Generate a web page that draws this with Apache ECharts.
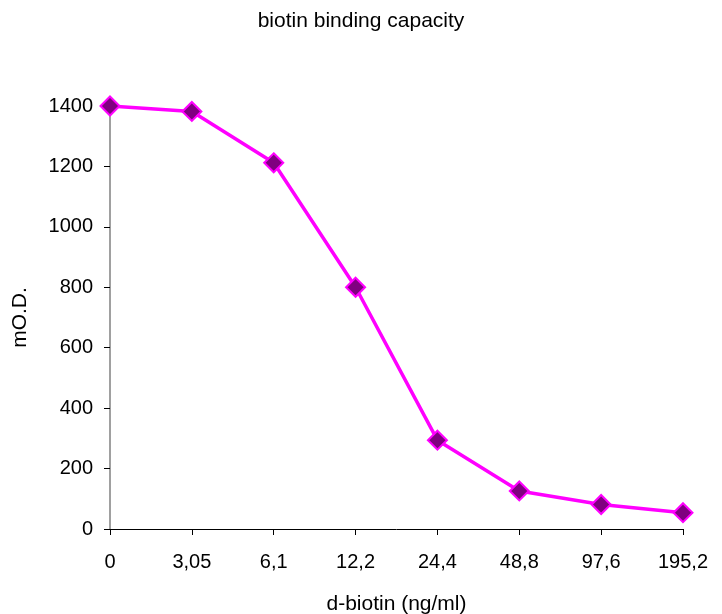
<!DOCTYPE html>
<html><head><meta charset="utf-8">
<script src="https://cdn.jsdelivr.net/npm/echarts@6/dist/echarts.min.js"></script>
<style>html,body{margin:0;padding:0;background:#fff}#c{width:722px;height:614px}</style>
</head><body><div id="c"></div>
<script>
const categories = ['0','3,05','6,1','12,2','24,4','48,8','97,6','195,2'];
const odValues = [1400, 1382, 1212, 800, 294, 126, 81, 54];
const yTicks = [0, 200, 400, 600, 800, 1000, 1200, 1400];

const chart = echarts.init(document.getElementById('c'));
const font = '"Liberation Sans", Arial, sans-serif';
chart.setOption({
  animation: false,
  title: { text: 'biotin binding capacity', left: 'center', top: 6,
    textStyle: { fontFamily: font, fontSize: 21, fontWeight: 'normal', color: '#000' } },
  grid: { left: 110, right: 39, top: 106, bottom: 85, containLabel: false, outerBoundsMode: 'none' },
  xAxis: {
    type: 'category', data: categories, boundaryGap: false,
    name: 'd-biotin (ng/ml)', nameLocation: 'middle', nameGap: 65,
    nameTextStyle: { fontFamily: font, fontSize: 21, color: '#000' },
    axisLine: { lineStyle: { color: '#000', width: 1 } },
    axisTick: { show: true, length: 6, lineStyle: { color: '#000' } },
    axisLabel: { fontFamily: font, fontSize: 20, color: '#000', margin: 23 },
    splitLine: { show: false }
  },
  yAxis: {
    type: 'value', min: yTicks[0], max: yTicks[yTicks.length-1], interval: 200,
    name: 'mO.D.', nameLocation: 'middle', nameGap: 79, nameRotate: 90,
    nameTextStyle: { fontFamily: font, fontSize: 21, color: '#000' },
    axisLine: { show: true, lineStyle: { color: '#808080', width: 1.5 } },
    axisTick: { show: true, length: 6, lineStyle: { color: '#000' } },
    axisLabel: { fontFamily: font, fontSize: 20, color: '#000', margin: 17,
      formatter: v => String(v) },
    splitLine: { show: false }
  },
  series: [{
    type: 'line', data: odValues, clip: false,
    lineStyle: { color: '#FF00FF', width: 3.5 },
    symbol: 'diamond', symbolSize: 19,
    itemStyle: { color: '#800080', borderColor: '#FF00FF', borderWidth: 2 },
    z: 5
  }]
});
</script></body></html>
